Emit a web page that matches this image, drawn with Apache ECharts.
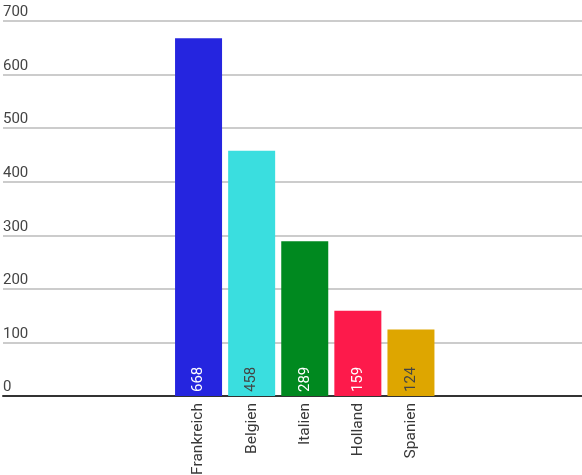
<!DOCTYPE html>
<html>
<head>
<meta charset="utf-8">
<script src="https://cdn.jsdelivr.net/npm/echarts@6/dist/echarts.min.js"></script>
<style>
html,body{margin:0;padding:0;background:#fff;}
#chart{width:582px;height:475px;}
</style>
</head>
<body>
<div id="chart"></div>
<script>
var categories = ['Frankreich', 'Belgien', 'Italien', 'Holland', 'Spanien'];
var values = [668, 458, 289, 159, 124];
var barColors = ['#2525DF', '#3ADEDF', '#00891F', '#FD1A4B', '#DEA600'];
var labelColors = ['#ffffff', '#444444', '#ffffff', '#ffffff', '#444444'];
var yMax = 700;
var yStep = 100;

var chart = echarts.init(document.getElementById('chart'), null, {renderer: 'canvas'});
var font = 'Roboto';
chart.setOption({
  animation: false,
  backgroundColor: '#ffffff',
  grid: [
    {left: 3, right: 0, top: 21, bottom: 79, containLabel: false, outerBoundsMode: 'none'},
    {left: 172, width: 265.5, top: 21, bottom: 79, containLabel: false, outerBoundsMode: 'none'}
  ],
  xAxis: [
    {
      gridIndex: 0, type: 'value', min: 0, max: 1,
      axisLine: {show: true, lineStyle: {color: '#333333', width: 2}},
      axisTick: {show: false}, axisLabel: {show: false}, splitLine: {show: false}
    },
    {
      gridIndex: 1, type: 'category', data: categories,
      axisLine: {show: false}, axisTick: {show: false},
      axisLabel: {rotate: 90, margin: 7, color: '#383838', fontFamily: font, fontSize: 15.5}
    }
  ],
  yAxis: [
    {
      gridIndex: 0, type: 'value', min: 0, max: yMax, interval: yStep,
      axisLine: {show: false}, axisTick: {show: false},
      axisLabel: {inside: true, margin: 0, align: 'left', verticalAlign: 'bottom',
        padding: [0, 0, 1, 0], color: '#444444', fontFamily: font, fontSize: 15},
      splitLine: {show: true, lineStyle: {color: '#cccccc', width: 2}}
    },
    {
      gridIndex: 1, type: 'value', min: 0, max: yMax, interval: yStep, show: false
    }
  ],
  series: [{
    type: 'bar',
    xAxisIndex: 1, yAxisIndex: 1,
    barWidth: 47,
    data: values.map(function (v, i) {
      return {
        value: v,
        itemStyle: {color: barColors[i]},
        label: {color: labelColors[i]}
      };
    }),
    label: {
      show: true, position: 'insideBottom', rotate: 90, align: 'left',
      verticalAlign: 'middle', distance: 4, fontFamily: font, fontSize: 15
    }
  }]
});
</script>
</body>
</html>
